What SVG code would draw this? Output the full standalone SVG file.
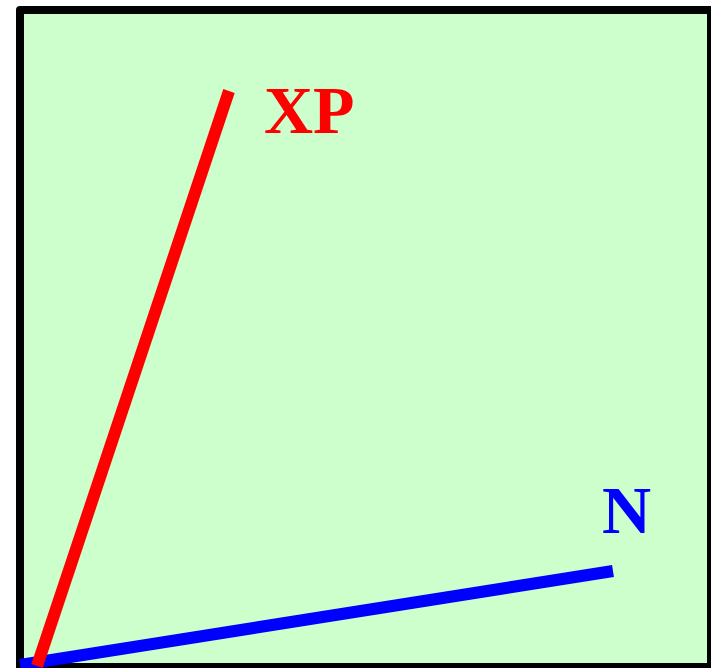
<svg xmlns="http://www.w3.org/2000/svg" width="711" height="668" viewBox="0 0 711 668">
<style>
.lbl{font-family:"Liberation Serif","Times New Roman",serif;font-weight:bold;font-size:68px}
</style>
<rect width="711" height="668" fill="#ffffff"/>
<g id="frame">
<rect x="20" y="10" width="691" height="657" fill="#ccffcc" stroke="#000000" stroke-width="8" stroke-linejoin="round"/>
</g>
<g id="connectors">
<line x1="20" y1="665" x2="613" y2="571" stroke="#0000ff" stroke-width="12"/>
<line x1="37" y1="666" x2="229" y2="91" stroke="#ff0000" stroke-width="12"/>
</g>
<g id="XP"><text class="lbl" x="264" y="133" fill="#ff0000">XP</text></g>
<g id="N"><text class="lbl" x="602" y="533" fill="#0000ff">N</text></g>
</svg>
